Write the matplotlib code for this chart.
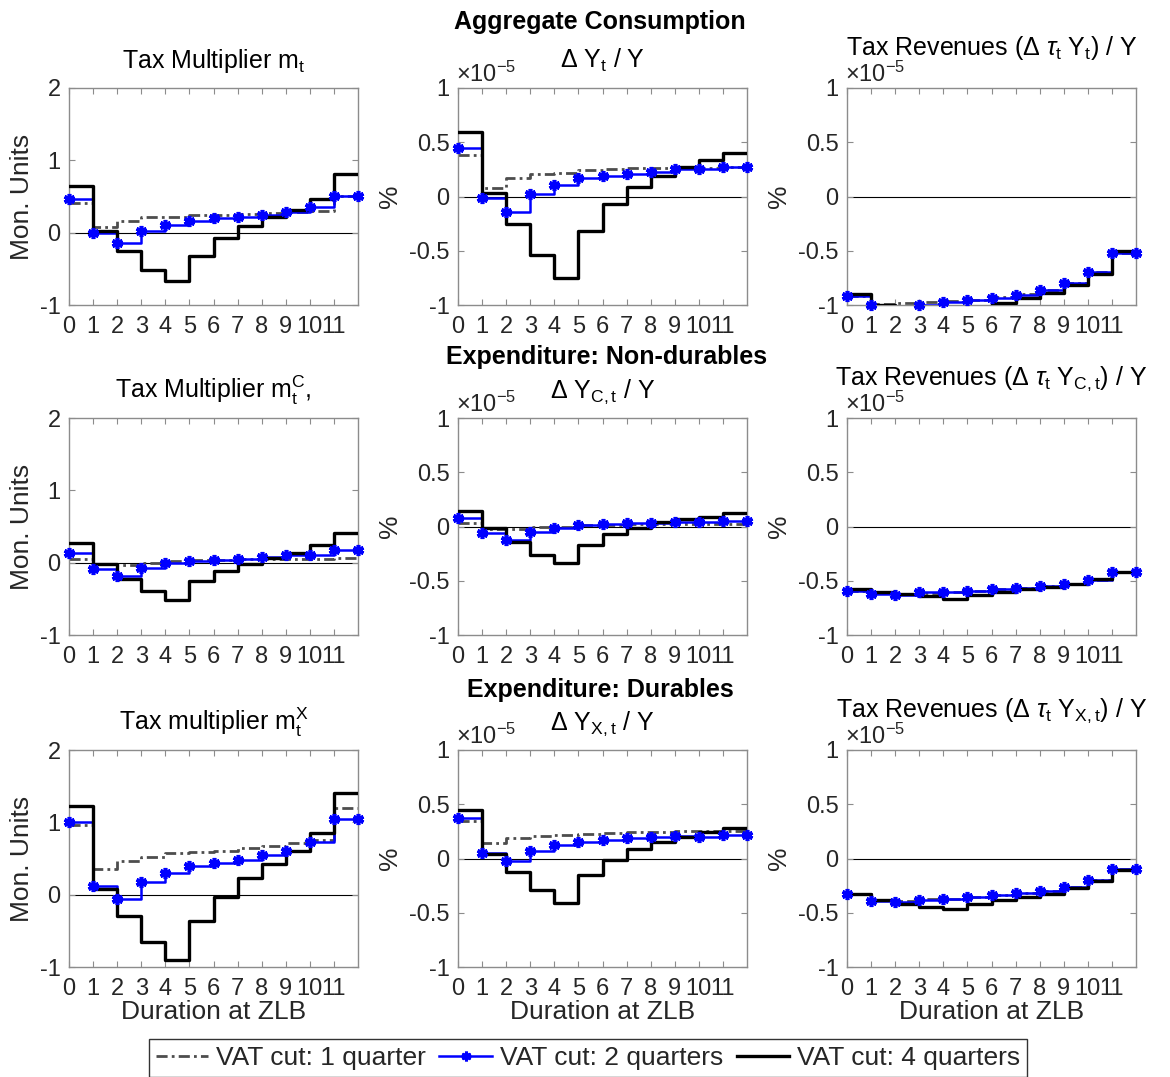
import numpy as np
import matplotlib
matplotlib.use("Agg")
import matplotlib.pyplot as plt
from matplotlib.lines import Line2D

plt.rcParams['font.family'] = ['Liberation Sans', 'DejaVu Sans']
plt.rcParams['mathtext.fontset'] = 'custom'
plt.rcParams['mathtext.rm'] = 'Liberation Sans'
plt.rcParams['mathtext.it'] = 'Liberation Sans:italic'
plt.rcParams['mathtext.bf'] = 'Liberation Sans:bold'
plt.rcParams['axes.unicode_minus'] = False

W, H = 1170, 1077

durations = list(range(12))
xtick_labels = [str(i) for i in range(12)]
legend_labels = ["VAT cut: 1 quarter", "VAT cut: 2 quarters", "VAT cut: 4 quarters"]

row_titles = ["Aggregate Consumption", "Expenditure: Non-durables", "Expenditure: Durables"]
panel_titles = [
    ["Tax Multiplier m$_{\\mathrm{t}}$", "Δ Y$_{\\mathrm{t}}$ / Y",
     "Tax Revenues (Δ $\\tau_{\\mathrm{t}}$ Y$_{\\mathrm{t}}$) / Y"],
    ["Tax Multiplier m$^{\\mathrm{C}}_{\\mathrm{t}}$,", "Δ Y$_{\\mathrm{C,t}}$ / Y",
     "Tax Revenues (Δ $\\tau_{\\mathrm{t}}$ Y$_{\\mathrm{C,t}}$) / Y"],
    ["Tax multiplier m$^{\\mathrm{X}}_{\\mathrm{t}}$", "Δ Y$_{\\mathrm{X,t}}$ / Y",
     "Tax Revenues (Δ $\\tau_{\\mathrm{t}}$ Y$_{\\mathrm{X,t}}$) / Y"],
]

# Row 1: aggregate consumption
agg_mult_q1 = [0.41, 0.08, 0.16, 0.21, 0.22, 0.24, 0.25, 0.26, 0.27, 0.28, 0.30, 0.50]
agg_mult_q2 = [0.47, -0.01, -0.14, 0.02, 0.11, 0.16, 0.20, 0.22, 0.25, 0.29, 0.35, 0.51]
agg_mult_q4 = [0.64, 0.02, -0.25, -0.51, -0.67, -0.32, -0.07, 0.09, 0.22, 0.32, 0.47, 0.81]

agg_dy_q1 = [0.38, 0.08, 0.17, 0.21, 0.22, 0.24, 0.25, 0.26, 0.26, 0.26, 0.26, 0.27]
agg_dy_q2 = [0.45, -0.01, -0.14, 0.02, 0.11, 0.17, 0.19, 0.21, 0.23, 0.25, 0.25, 0.27]
agg_dy_q4 = [0.59, 0.03, -0.25, -0.54, -0.75, -0.32, -0.07, 0.09, 0.19, 0.27, 0.34, 0.40]

agg_rev_q1 = [-0.92, -0.99, -0.985, -0.975, -0.965, -0.95, -0.93, -0.90, -0.86, -0.80, -0.70, -0.52]
agg_rev_q2 = [-0.92, -1.00, -1.02, -0.997, -0.975, -0.955, -0.935, -0.905, -0.86, -0.80, -0.70, -0.52]
agg_rev_q4 = [-0.90, -1.00, -1.02, -1.04, -1.05, -1.03, -0.985, -0.935, -0.89, -0.82, -0.71, -0.50]

# Row 2: non-durables
nd_mult_q1 = [0.055, -0.02, -0.03, -0.01, 0.02, 0.03, 0.04, 0.05, 0.05, 0.05, 0.05, 0.07]
nd_mult_q2 = [0.14, -0.09, -0.19, -0.07, -0.01, 0.02, 0.04, 0.055, 0.08, 0.10, 0.11, 0.175]
nd_mult_q4 = [0.27, -0.02, -0.22, -0.39, -0.51, -0.26, -0.12, -0.02, 0.07, 0.14, 0.24, 0.41]

nd_dy_q1 = [0.03, -0.02, -0.025, -0.005, 0.0, 0.01, 0.015, 0.02, 0.02, 0.02, 0.02, 0.02]
nd_dy_q2 = [0.08, -0.06, -0.12, -0.05, -0.01, 0.015, 0.025, 0.03, 0.035, 0.045, 0.04, 0.05]
nd_dy_q4 = [0.14, -0.01, -0.14, -0.26, -0.34, -0.17, -0.07, -0.01, 0.04, 0.07, 0.09, 0.12]

nd_rev_q1 = [-0.59, -0.615, -0.625, -0.61, -0.60, -0.59, -0.578, -0.57, -0.55, -0.53, -0.49, -0.42]
nd_rev_q2 = [-0.59, -0.62, -0.63, -0.605, -0.60, -0.59, -0.575, -0.57, -0.55, -0.53, -0.49, -0.42]
nd_rev_q4 = [-0.58, -0.605, -0.62, -0.645, -0.665, -0.63, -0.60, -0.58, -0.56, -0.53, -0.485, -0.415]

# Row 3: durables
d_mult_q1 = [0.96, 0.35, 0.47, 0.52, 0.57, 0.59, 0.61, 0.64, 0.67, 0.71, 0.75, 1.20]
d_mult_q2 = [1.00, 0.12, -0.065, 0.175, 0.30, 0.40, 0.44, 0.485, 0.545, 0.60, 0.73, 1.04]
d_mult_q4 = [1.22, 0.08, -0.30, -0.66, -0.91, -0.36, -0.03, 0.23, 0.43, 0.60, 0.85, 1.40]

d_dy_q1 = [0.35, 0.14, 0.19, 0.205, 0.22, 0.23, 0.235, 0.24, 0.245, 0.25, 0.25, 0.25]
d_dy_q2 = [0.37, 0.05, -0.025, 0.07, 0.12, 0.15, 0.17, 0.185, 0.195, 0.205, 0.20, 0.215]
d_dy_q4 = [0.45, 0.046, -0.12, -0.29, -0.41, -0.15, -0.01, 0.086, 0.15, 0.20, 0.24, 0.28]

d_rev_q1 = [-0.33, -0.38, -0.39, -0.375, -0.37, -0.355, -0.34, -0.32, -0.30, -0.26, -0.195, -0.10]
d_rev_q2 = [-0.33, -0.39, -0.405, -0.38, -0.37, -0.355, -0.34, -0.32, -0.30, -0.26, -0.195, -0.10]
d_rev_q4 = [-0.325, -0.385, -0.42, -0.445, -0.47, -0.415, -0.385, -0.355, -0.325, -0.275, -0.205, -0.105]

panels = [
    [(agg_mult_q1, agg_mult_q2, agg_mult_q4), (agg_dy_q1, agg_dy_q2, agg_dy_q4), (agg_rev_q1, agg_rev_q2, agg_rev_q4)],
    [(nd_mult_q1, nd_mult_q2, nd_mult_q4), (nd_dy_q1, nd_dy_q2, nd_dy_q4), (nd_rev_q1, nd_rev_q2, nd_rev_q4)],
    [(d_mult_q1, d_mult_q2, d_mult_q4), (d_dy_q1, d_dy_q2, d_dy_q4), (d_rev_q1, d_rev_q2, d_rev_q4)],
]

fig = plt.figure(figsize=(W / 100, H / 100), dpi=100)

col_left = [69, 458, 847]
ax_w = 289
row_top = [88, 418, 750]
ax_h = 217

GRAY = '#4d4d4d'
AXCOL = '#8c8c8c'
TXT = '#262626'
FS_TICK = 17
FS_TITLE = 18
FS_LABEL = 19

def fx(px):
    return px / W

def fy(py):
    return 1 - py / H

title_base_off = [20, 20, 33]

for r in range(3):
    for c in range(3):
        ax = fig.add_axes([fx(col_left[c]), fy(row_top[r] + ax_h), ax_w / W, ax_h / H])
        q1, q2, q4 = panels[r][c]
        x = np.arange(len(durations) + 1)
        y1 = np.append(q1, q1[-1])
        y2 = np.append(q2, q2[-1])
        y4 = np.append(q4, q4[-1])
        ax.axhline(0, color='black', lw=0.8, zorder=1)
        ax.step(x, y1, where='post', color=GRAY, lw=2.0, ls=(0, (4, 1.5, 1, 1.5)), zorder=2)
        ax.step(x, y2, where='post', color='blue', lw=1.8, zorder=3)
        if c == 0:
            ylo, yhi = -1, 2
        else:
            ylo, yhi = -1, 1
        m = (y2 >= ylo - 0.01) & (y2 <= yhi)
        ax.plot(x[m], y2[m], ls='none', marker=(6, 2, 0), ms=8, mew=2.6,
                color='blue', clip_on=False, zorder=5)
        ax.step(x, y4, where='post', color='black', lw=2.4, zorder=4)
        ax.set_xlim(0, 12)
        ax.set_ylim(ylo, yhi)
        ax.set_xticks(durations)
        ax.set_xticklabels(xtick_labels)
        if c == 0:
            ax.set_yticks([-1, 0, 1, 2])
            ax.set_yticklabels(['-1', '0', '1', '2'])
        else:
            ax.set_yticks([-1, -0.5, 0, 0.5, 1])
            ax.set_yticklabels(['-1', '-0.5', '0', '0.5', '1'])
        ax.tick_params(direction='in', top=True, right=True, length=4, width=0.8,
                       colors=AXCOL, labelcolor=TXT, labelsize=FS_TICK)
        ax.tick_params(axis='x', pad=8)
        ax.tick_params(axis='y', pad=6)
        for s in ax.spines.values():
            s.set_color(AXCOL)
            s.set_linewidth(1.0)
        cx = col_left[c] + ax_w / 2
        fig.text(fx(cx), fy(row_top[r] - title_base_off[c]), panel_titles[r][c],
                 ha='center', va='baseline', fontsize=FS_TITLE, color='black')
        if c > 0:
            fig.text(fx(col_left[c] - 2), fy(row_top[r] - 6), '$\\times$10$^{\\mathrm{-5}}$',
                     ha='left', va='baseline', fontsize=FS_TICK, color=TXT)
        cy = row_top[r] + ax_h / 2
        if c == 0:
            fig.text(fx(22), fy(cy), 'Mon. Units', rotation=90, ha='center', va='center',
                     fontsize=FS_LABEL, color=TXT)
        else:
            fig.text(fx(col_left[c] - 68), fy(cy), '%', rotation=90, ha='center', va='center',
                     fontsize=FS_LABEL, color=TXT)
        if r == 2:
            fig.text(fx(cx), fy(1012), 'Duration at ZLB', ha='center', va='center',
                     fontsize=FS_LABEL, color=TXT)

row_title_y = [22, 357, 690]
row_title_x = [600, 607, 600]
for r in range(3):
    fig.text(fx(row_title_x[r]), fy(row_title_y[r]), row_titles[r], ha='center', va='center',
             fontsize=FS_TITLE, fontweight='bold', color='black')

handles = [
    Line2D([], [], color=GRAY, lw=2.0, ls=(0, (4, 1.5, 1, 1.5))),
    Line2D([], [], color='blue', lw=1.8, marker=(6, 2, 0), ms=7, mew=2.2, markevery=[1]),
    Line2D([], [], color='black', lw=2.4),
]
leg = fig.legend(handles, legend_labels, loc='center', bbox_to_anchor=(fx(588), fy(1058)),
                 ncol=3, fontsize=FS_LABEL, frameon=True, fancybox=False,
                 handlelength=2.0, handletextpad=0.3, columnspacing=0.5,
                 borderpad=0.25, borderaxespad=0)
leg.get_frame().set_edgecolor('black')
leg.get_frame().set_linewidth(1.0)
for t in leg.get_texts():
    t.set_color(TXT)

fig.savefig('out.png', dpi=100)
